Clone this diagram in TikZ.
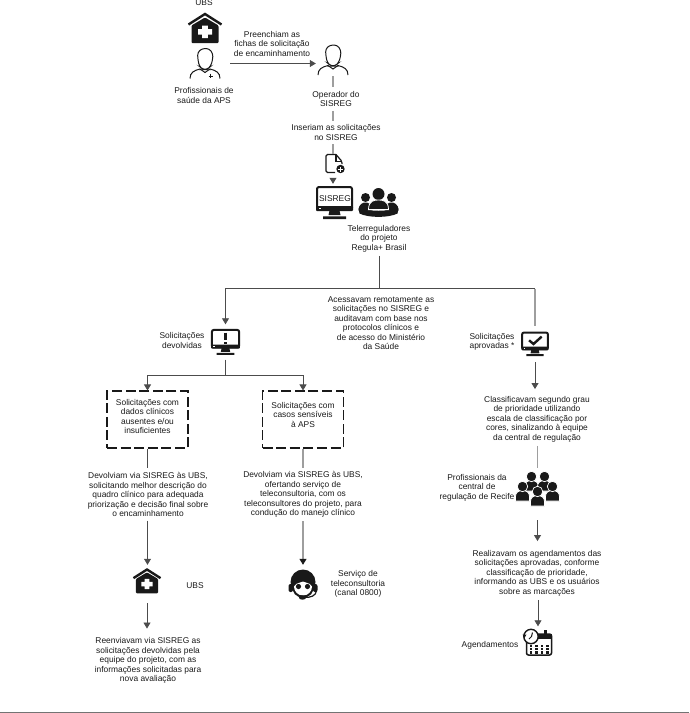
\documentclass[tikz,border=0pt]{standalone}
\usepackage{fontspec}
\setmainfont{Liberation Sans}
\usetikzlibrary{arrows.meta}
\definecolor{inkc}{gray}{0.1}
\tikzset{
housepic/.pic={\draw[line width=2.4pt,inkc,miter limit=10] (-16.5,-3.5) -- (0,-14) -- (16.5,-3.5);
\fill[inkc,rounded corners=1pt] (-13.5,-2.5) -- (0,-10.5) -- (13.5,-2.5) -- (13.5,15) -- (-13.5,15) -- cycle;
\fill[white] (-2.8,-2.5) rectangle (2.8,10) (-7,1) rectangle (7,6.6);},
personpic/.pic={\draw[inkc,line width=1pt,rounded corners=3pt] (-7,-3) -- (-7.5,-11) -- (-3,-15) -- (4,-15) -- (8,-10) -- (7.5,-3) -- (5.5,3) -- (2,6) -- (-2,6) -- (-5.5,3) -- cycle;
\draw[inkc,line width=1pt] (-15,15) .. controls (-15,9) and (-11,7) .. (-5,5.5) -- (0,9) -- (5,5.5) .. controls (11,7) and (15,9) .. (15,15);},
docpic/.pic={\pic {personpic}; \draw[inkc,line width=1pt] (3.5,12.5) -- (8,12.5) (5.8,10.2) -- (5.8,14.8);},
filepic/.pic={\draw[inkc,line width=1.2pt,rounded corners=1.5pt] (2,-9.5) -- (-8,-9.5) -- (-8,8.5) -- (1,8.5) (2,-9.5) -- (8,-2.5) -- (8,0);
\draw[inkc,line width=1.2pt] (2,-9.5) -- (2,-2.5) -- (8,-2.5);
\fill[inkc] (6.5,5) circle (4.2); \draw[white,line width=1pt] (4,5) -- (9,5) (6.5,2.5) -- (6.5,7.5);},
monitorpic/.pic={\draw[inkc,line width=2pt,rounded corners=2pt] (-17.5,-15.5) rectangle (17.5,7);
\fill[inkc,rounded corners=1pt] (-18.5,3.5) rectangle (18.5,8.5);
\fill[white] (-15.5,5.2) rectangle (-14,6.7);
\fill[inkc] (-5,8) -- (5,8) -- (6,12.5) -- (-6,12.5) -- cycle (-11.5,13.8) rectangle (11.5,16.5);},
alertpic/.pic={\pic[transform shape] {monitorpic}; \draw[inkc,line width=2.6pt] (0,-12) -- (0,-2); \fill[inkc] (-1.3,0) rectangle (1.3,3);},
checkpic/.pic={\pic[transform shape] {monitorpic}; \draw[inkc,line width=2.4pt] (-8,-5) -- (-2,0) -- (9,-10);},
grouppic/.pic={\fill[inkc] (-13,-5) circle (4.5) (13,-5) circle (4.5);
\fill[inkc] (-20,8) .. controls (-20,1) and (-15,0) .. (-13,0) .. controls (-11,0) and (-6,1) .. (-6,8) -- cycle (6,8) .. controls (6,1) and (11,0) .. (13,0) .. controls (15,0) and (20,1) .. (20,8) -- cycle;
\fill[inkc] (0,-8.5) circle (6);
\filldraw[inkc,draw=white,line width=.8pt] (-10,7) .. controls (-10,-2) and (-4,-2.5) .. (0,-2.5) .. controls (4,-2.5) and (10,-2) .. (10,7) -- cycle;
\fill[inkc] (-20,6) .. controls (-12,9) and (12,9) .. (20,6) -- (19,11) .. controls (10,15.5) and (-10,15.5) .. (-19,11) -- cycle;},
crowdpic/.pic={\foreach \px/\py in {-6/-13,7/-13,-15/-3,15/-3,0/2}{
\filldraw[inkc,draw=white,line width=.7pt] (\px-7,\py+14.5) -- (\px-7,\py+10) .. controls (\px-7,\py+6) and (\px-4,\py+4) .. (\px,\py+4) .. controls (\px+4,\py+4) and (\px+7,\py+6) .. (\px+7,\py+10) -- (\px+7,\py+14.5) -- cycle;
\filldraw[inkc,draw=white,line width=.7pt] (\px,\py) circle (5.2);}},
headsetpic/.pic={\fill[inkc] (0,-3) circle (12.5);
\fill[inkc,rounded corners=2pt] (-14.5,-1) rectangle (-10,7) (10,-1) rectangle (14.5,7);
\fill[inkc] (-11,0) -- (11,0) .. controls (11,8) and (7,12.5) .. (0,12.5) .. controls (-7,12.5) and (-11,8) .. (-11,0) -- cycle;
\fill[white] (-9,1.5) .. controls (-6,-3.5) and (-3,-1) .. (0,-3.5) .. controls (3,-1) and (6,-3.5) .. (9,1.5) .. controls (9,6) and (5.5,10.5) .. (0,10.5) .. controls (-5.5,10.5) and (-9,6) .. (-9,1.5) -- cycle;
\fill[inkc] (-4.5,1.5) circle (2.6) (4.5,1.5) circle (2.6);
\draw[inkc,line width=1.2pt] (13.5,6) .. controls (12.5,11) and (8,12.5) .. (1,12.5);
\fill[inkc] (-.5,12.5) ellipse (3.6 and 2.2);},
calendarpic/.pic={\draw[inkc,line width=1.5pt,rounded corners=2pt] (-11.5,-9.5) rectangle (13.5,11.5);
\fill[inkc] (-11.5,-9.5) rectangle (13.5,-4.5);
\fill[inkc] (5.5,-14) rectangle (8.5,-7);
\foreach \cx in {-7,-1.5,4,9.5}{\foreach \cy in {2.5,5.8,9}{\fill[inkc] (\cx-1.1,\cy-1.1) rectangle (\cx+1.1,\cy+1.1);}}
\filldraw[fill=white,draw=inkc,line width=1.4pt] (-7,-7) circle (7.2);
\draw[inkc,line width=1pt] (-5.5,-11) -- (-6.5,-7) -- (-9,-4.5);
\fill[inkc] (-15.5,-9) -- (-11.5,-9) -- (-13.5,-5.5) -- cycle;}
}
\begin{document}
\begin{tikzpicture}[x=1pt,y=-1pt,every node/.style={font=\fontsize{8.4}{9.5}\selectfont,text=inkc},lab/.style={align=center,inner sep=0pt,outer sep=4pt},icon/.style 2 args={minimum width=#1,minimum height=#2,inner sep=0pt},conn/.style={draw=black!70,line width=.8pt},connl/.style={draw=black!38,line width=1.1pt},arr/.style={conn,-{Triangle[width=7pt,length=6pt]}},arrl/.style={connl,-{Triangle[width=7pt,length=6pt,color=inkc]}},dbox/.style={draw=inkc,line width=1.1pt,dash pattern=on 10pt off 3.6pt,align=center,minimum width=81pt,minimum height=57pt,inner sep=0pt}]
\useasboundingbox (0,0) rectangle (689,713);
\node[lab] (ubslab) at (204,3) {UBS};
\node[icon={36pt}{30pt}] (ubs) at (205,28) {};
\pic at (ubs) {housepic};
\node[icon={50pt}{32pt}] (prof) at (205,63.5) {};
\pic at (prof) {docpic};
\node[lab] (proflab) at (204,95.5) {Profissionais de\\saúde da APS};
\node[lab] (filltxt) at (272,43.5) {Preenchiam as\\fichas de solicitação\\de encaminhamento};
\node[icon={34pt}{32pt}] (oper) at (333,60) {};
\pic at (oper) {personpic};
\node[lab] (operlab) at (336,99) {Operador do\\SISREG};
\node[lab] (insert) at (336,132.5) {Inseriam as solicitações\\no SISREG};
\node[icon={20pt}{20pt}] (file) at (334,164) {};
\pic at (file) {filepic};
\node[icon={38pt}{37pt}] (sisreg) at (334.5,202.5) {};
\pic at (sisreg) {monitorpic};
\node[inner sep=0pt] (sisregtxt) at (335,198.5) {SISREG};
\node[icon={40pt}{30pt}] (tele) at (378.5,202.5) {};
\pic at (tele) {grouppic};
\node[lab] (telelab) at (379,238.5) {Telerreguladores\\do projeto\\Regula+ Brasil};
\coordinate (split) at (379,288.5);
\node[lab] (acess) at (381,323) {Acessavam remotamente as\\solicitações no SISREG e\\auditavam com base nos\\protocolos clínicos e\\de acesso do Ministério\\da Saúde};
\node[icon={30pt}{35pt}] (dev) at (225.5,342) {};
\pic[scale=.78] at (dev) {alertpic};
\node[lab] (devlab) at (182,340.5) {Solicitações\\devolvidas};
\coordinate (fork) at (225.5,375);
\node[dbox,text depth=6pt] (boxa) at (147.5,419.5) {Solicitações com\\dados clínicos\\ausentes e/ou\\insuficientes};
\node[dbox,text depth=10pt] (boxb) at (303,419.5) {Solicitações com\\casos sensíveis\\à APS};
\node[lab] (backa) at (148,494.5) {Devolviam via SISREG às UBS,\\solicitando melhor descrição do\\quadro clínico para adequada\\priorização e decisão final sobre\\o encaminhamento};
\node[lab] (backb) at (303,494.5) {Devolviam via SISREG às UBS,\\ofertando serviço de\\teleconsultoria, com os\\teleconsultores do projeto, para\\condução do manejo clínico};
\node[icon={28pt}{32pt}] (ubsb) at (147,581) {};
\pic[scale=.82] at (ubsb) {housepic};
\node[lab] (ubsblab) at (195,586) {UBS};
\node[lab] (resend) at (148,660.5) {Reenviavam via SISREG as\\solicitações devolvidas pela\\equipe do projeto, com as\\informações solicitadas para\\nova avaliação};
\node[icon={32pt}{40pt}] (tel) at (303,585) {};
\pic at (tel) {headsetpic};
\node[lab] (tellab) at (358,584) {Serviço de\\teleconsultoria\\(canal 0800)};
\node[icon={30pt}{36pt}] (apr) at (535,344) {};
\pic[scale=.74] at (apr) {checkpic};
\node[lab] (aprlab) at (492,342) {Solicitações\\aprovadas *};
\node[lab] (classif) at (537,419) {Classificavam segundo grau\\de prioridade utilizando\\escala de classificação por\\cores, sinalizando à equipe\\da central de regulação};
\node[icon={44pt}{43pt}] (crowd) at (537.5,489.5) {};
\pic at (crowd) {crowdpic};
\node[lab] (crowdlab) at (477,487.5) {Profissionais da\\central de\\regulação de Recife};
\node[lab] (sched) at (537,573) {Realizavam os agendamentos das\\solicitações aprovadas, conforme\\classificação de prioridade,\\informando as UBS e os usuários\\sobre as marcações};
\node[icon={30pt}{30pt}] (cal) at (538,643.5) {};
\pic at (cal) {calendarpic};
\node[lab] (callab) at (490,645) {Agendamentos};
\draw[arr] (prof.east) -- (prof.east -| oper.west);
\draw[connl] (oper.south) -- (oper.south |- operlab.north);
\draw[connl] (operlab.south -| oper) -- (insert.north -| oper);
\draw[connl] (insert.south -| oper) -- (file.north -| oper);
\draw[arr,shorten <=4pt] (file.south -| oper) -- (sisreg.north -| oper);
\draw[conn] (telelab.south) -- (split);
\draw[arr] (split) -| (dev.north);
\draw[connl] (split -| apr) -- (apr.north);
\draw[conn] (split) -- (split -| apr);
\draw[conn] (dev.south) -- (fork);
\draw[arr] (fork) -| (boxa.north);
\draw[arr] (fork) -| (boxb.north);
\draw[conn] (boxa.south) -- (backa.north -| boxa);
\draw[connl] (boxb.south) -- (backb.north);
\draw[arr] (backa.south -| boxa) -- (ubsb.north -| boxa);
\draw[arrl] (backb.south) -- (tel.north);
\draw[arr,shorten <=6pt,shorten >=5pt] (ubsb.south) -- (resend.north -| ubsb);
\draw[arr,shorten >=3pt] (apr.south) -- (classif.north -| apr);
\draw[connl] (classif.south -| crowd) -- (crowd.north);
\draw[arr,shorten <=9pt,shorten >=5pt] (crowd.south) -- (sched.north -| crowd);
\draw[arr,shorten >=2pt] (sched.south -| cal) -- (cal.north);
\draw[draw=black!55,line width=1pt] (0,712) -- (689,712);
\end{tikzpicture}
\end{document}
